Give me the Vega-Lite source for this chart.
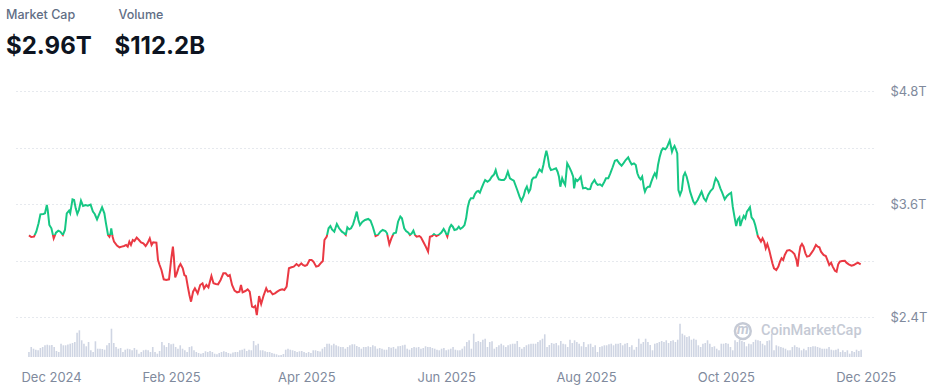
{
  "$schema": "https://vega.github.io/schema/vega-lite/v6.json",
  "width": 858,
  "height": 266,
  "autosize": {"type": "none"},
  "padding": {"left": 15, "top": 91, "right": 70, "bottom": 35},
  "background": "white",
  "config": {"view": {"stroke": null}, "font": "Inter"},
  "title": {
    "text": "Market Cap\u00a0\u00a0\u00a0\u00a0\u00a0\u00a0\u00a0\u00a0\u00a0\u00a0\u00a0\u00a0\u00a0Volume",
    "subtitle": "$2.96T\u00a0\u00a0\u00a0\u00a0$112.2B",
    "anchor": "start",
    "frame": "group",
    "dx": -9,
    "offset": 26,
    "font": "Inter",
    "fontSize": 12.5,
    "fontWeight": 500,
    "color": "#616e85",
    "subtitleFont": "Inter",
    "subtitleFontSize": 24,
    "subtitleFontWeight": 700,
    "subtitleColor": "#0d1421",
    "subtitlePadding": 14
  },
  "datasets": {
    "cap": [
      {"day":0,"cap":3.267},{"day":1.0,"cap":3.250},{"day":2.2,"cap":3.253},{"day":3.2,"cap":3.306},{"day":4.2,"cap":3.395},{"day":5.0,"cap":3.490},{"day":6.3,"cap":3.494},{"day":7.0,"cap":3.501},{"day":7.8,"cap":3.589},{"day":8.2,"cap":3.536},{"day":8.9,"cap":3.377},{"day":9.8,"cap":3.342},{"day":10.8,"cap":3.235},{"day":11.8,"cap":3.296},{"day":12.8,"cap":3.317},{"day":13.7,"cap":3.306},{"day":14.8,"cap":3.271},{"day":15.7,"cap":3.324},{"day":16.5,"cap":3.501},{"day":17.5,"cap":3.529},{"day":18.0,"cap":3.501},{"day":19.0,"cap":3.650},{"day":19.7,"cap":3.643},{"day":20.4,"cap":3.554},{"day":21.1,"cap":3.494},{"day":21.8,"cap":3.536},{"day":22.7,"cap":3.635},{"day":23.6,"cap":3.579},{"day":24.7,"cap":3.589},{"day":25.7,"cap":3.582},{"day":26.9,"cap":3.593},{"day":27.9,"cap":3.519},{"day":28.7,"cap":3.494},{"day":29.7,"cap":3.437},{"day":30.8,"cap":3.501},{"day":31.9,"cap":3.565},{"day":32.9,"cap":3.501},{"day":33.6,"cap":3.395},{"day":34.5,"cap":3.271},{"day":35.1,"cap":3.253},{"day":35.6,"cap":3.289},{"day":35.9,"cap":3.342},{"day":36.5,"cap":3.253},{"day":37.1,"cap":3.200},{"day":38.4,"cap":3.158},{"day":39.5,"cap":3.140},{"day":40.5,"cap":3.147},{"day":41.5,"cap":3.154},{"day":42.4,"cap":3.165},{"day":43.1,"cap":3.147},{"day":43.8,"cap":3.200},{"day":44.5,"cap":3.165},{"day":45.3,"cap":3.218},{"day":46.0,"cap":3.207},{"day":47.0,"cap":3.243},{"day":48.0,"cap":3.218},{"day":48.9,"cap":3.193},{"day":49.9,"cap":3.182},{"day":50.9,"cap":3.154},{"day":51.7,"cap":3.182},{"day":52.7,"cap":3.235},{"day":53.5,"cap":3.165},{"day":54.2,"cap":3.193},{"day":55.6,"cap":3.189},{"day":56.3,"cap":3.005},{"day":57.0,"cap":2.952},{"day":57.8,"cap":2.899},{"day":58.8,"cap":2.800},{"day":59.9,"cap":2.793},{"day":61.1,"cap":2.800},{"day":62.1,"cap":3.023},{"day":62.8,"cap":3.147},{"day":63.2,"cap":3.041},{"day":63.8,"cap":2.821},{"day":64.5,"cap":2.864},{"day":65.4,"cap":2.935},{"day":66.1,"cap":2.963},{"day":67.1,"cap":2.917},{"day":67.8,"cap":2.846},{"day":68.5,"cap":2.835},{"day":69.3,"cap":2.722},{"day":70.0,"cap":2.634},{"day":70.7,"cap":2.563},{"day":71.6,"cap":2.669},
      {"day":72.4,"cap":2.704},{"day":73.6,"cap":2.651},{"day":74.7,"cap":2.740},{"day":75.7,"cap":2.758},{"day":76.4,"cap":2.704},{"day":77.4,"cap":2.740},{"day":78.3,"cap":2.715},{"day":79.6,"cap":2.835},{"day":80.5,"cap":2.758},{"day":81.5,"cap":2.750},{"day":82.5,"cap":2.747},{"day":83.6,"cap":2.793},{"day":84.8,"cap":2.864},{"day":85.8,"cap":2.864},{"day":86.8,"cap":2.835},{"day":87.6,"cap":2.846},{"day":88.6,"cap":2.740},{"day":89.7,"cap":2.680},{"day":90.8,"cap":2.662},{"day":91.8,"cap":2.669},{"day":92.5,"cap":2.740},{"day":93.2,"cap":2.662},{"day":94.4,"cap":2.676},{"day":95.4,"cap":2.694},{"day":96.3,"cap":2.669},{"day":97.3,"cap":2.510},{"day":98.0,"cap":2.503},{"day":98.7,"cap":2.517},{"day":99.4,"cap":2.421},{"day":100.4,"cap":2.623},{"day":101.3,"cap":2.538},{"day":102.3,"cap":2.623},{"day":103.5,"cap":2.704},{"day":104.2,"cap":2.669},{"day":105.2,"cap":2.676},{"day":106.3,"cap":2.641},{"day":107.3,"cap":2.651},{"day":108.3,"cap":2.669},{"day":109.5,"cap":2.687},{"day":110.5,"cap":2.694},{"day":111.4,"cap":2.687},{"day":112.4,"cap":2.722},{"day":113.4,"cap":2.917},{"day":114.5,"cap":2.928},{"day":115.5,"cap":2.935},{"day":116.7,"cap":2.963},{"day":117.7,"cap":2.942},{"day":118.8,"cap":2.970},{"day":119.5,"cap":2.952},{"day":120.4,"cap":2.942},{"day":121.3,"cap":2.952},{"day":122.4,"cap":3.005},{"day":123.3,"cap":3.005},{"day":124.1,"cap":2.988},{"day":125.3,"cap":2.935},{"day":126.3,"cap":2.942},{"day":127.2,"cap":2.970},{"day":128.2,"cap":2.995},{"day":128.9,"cap":3.218},{"day":129.9,"cap":3.253},{"day":130.7,"cap":3.342},{"day":131.5,"cap":3.366},{"day":132.2,"cap":3.331},{"day":133.2,"cap":3.306},{"day":133.9,"cap":3.359},{"day":134.3,"cap":3.388},{"day":135.3,"cap":3.342},{"day":136.5,"cap":3.306},{"day":137.5,"cap":3.289},{"day":138.2,"cap":3.271},{"day":138.9,"cap":3.352},{"day":139.7,"cap":3.331},{"day":140.5,"cap":3.342},{"day":141.4,"cap":3.384},{"day":142.2,"cap":3.448},{"day":143.0,"cap":3.519},{"day":143.7,"cap":3.430},{"day":144.4,"cap":3.377},
      {"day":145.4,"cap":3.409},{"day":146.6,"cap":3.430},{"day":148.0,"cap":3.441},{"day":149.0,"cap":3.423},{"day":150.0,"cap":3.359},{"day":151.2,"cap":3.260},{"day":152.2,"cap":3.271},{"day":153.3,"cap":3.306},{"day":154.3,"cap":3.324},{"day":155.5,"cap":3.313},{"day":156.2,"cap":3.289},{"day":157.2,"cap":3.172},{"day":158.1,"cap":3.235},{"day":159.1,"cap":3.289},{"day":160.1,"cap":3.296},{"day":161.0,"cap":3.412},{"day":162.0,"cap":3.466},{"day":162.7,"cap":3.448},{"day":163.7,"cap":3.342},{"day":164.5,"cap":3.313},{"day":165.5,"cap":3.296},{"day":166.2,"cap":3.271},{"day":167.0,"cap":3.289},{"day":167.7,"cap":3.317},{"day":168.4,"cap":3.271},{"day":169.1,"cap":3.253},{"day":170.3,"cap":3.260},{"day":171.0,"cap":3.246},{"day":172.0,"cap":3.200},{"day":173.1,"cap":3.147},{"day":174.1,"cap":3.094},{"day":174.9,"cap":3.253},{"day":175.9,"cap":3.260},{"day":176.7,"cap":3.281},{"day":177.7,"cap":3.260},{"day":178.7,"cap":3.271},{"day":179.9,"cap":3.296},{"day":180.9,"cap":3.335},{"day":181.6,"cap":3.306},{"day":182.5,"cap":3.253},{"day":183.5,"cap":3.349},{"day":184.2,"cap":3.377},{"day":184.9,"cap":3.359},{"day":185.6,"cap":3.324},{"day":186.6,"cap":3.331},{"day":187.5,"cap":3.359},{"day":188.2,"cap":3.335},{"day":189.2,"cap":3.352},{"day":190.0,"cap":3.377},{"day":190.7,"cap":3.448},{"day":191.4,"cap":3.565},{"day":192.1,"cap":3.632},{"day":192.8,"cap":3.660},{"day":193.8,"cap":3.660},{"day":194.5,"cap":3.703},{"day":195.3,"cap":3.731},{"day":196.0,"cap":3.738},{"day":196.7,"cap":3.720},{"day":197.4,"cap":3.766},{"day":198.3,"cap":3.820},{"day":199.0,"cap":3.855},{"day":200.0,"cap":3.837},{"day":201.0,"cap":3.855},{"day":201.9,"cap":3.890},{"day":202.9,"cap":3.915},{"day":203.6,"cap":3.961},{"day":204.3,"cap":3.897},{"day":205.0,"cap":3.862},{"day":206.0,"cap":3.855},{"day":207.2,"cap":3.855},{"day":207.9,"cap":3.873},{"day":208.9,"cap":3.943},{"day":209.8,"cap":3.873},{"day":210.5,"cap":3.862},{"day":211.5,"cap":3.848},{"day":212.2,"cap":3.802},{"day":213.0,"cap":3.749},{"day":214.0,"cap":3.678},{"day":214.8,"cap":3.632},{"day":215.8,"cap":3.685},{"day":216.5,"cap":3.749},{"day":217.2,"cap":3.784},{"day":218.0,"cap":3.725},
      {"day":218.7,"cap":3.756},{"day":219.4,"cap":3.855},{"day":220.1,"cap":3.880},{"day":221.1,"cap":3.883},{"day":222.0,"cap":3.933},{"day":222.7,"cap":3.968},{"day":223.7,"cap":3.943},{"day":224.4,"cap":4.014},{"day":225.1,"cap":4.103},{"day":225.7,"cap":4.166},{"day":226.3,"cap":4.103},{"day":227.0,"cap":3.997},{"day":227.7,"cap":3.961},{"day":228.7,"cap":3.968},{"day":229.9,"cap":3.979},{"day":230.6,"cap":3.943},{"day":231.2,"cap":3.890},{"day":231.8,"cap":3.784},{"day":232.6,"cap":3.873},{"day":233.3,"cap":3.827},{"day":233.9,"cap":3.802},{"day":234.8,"cap":4.032},{"day":235.6,"cap":3.997},{"day":236.6,"cap":3.943},{"day":237.4,"cap":3.890},{"day":237.8,"cap":3.766},{"day":238.5,"cap":3.862},{"day":239.2,"cap":3.844},{"day":239.9,"cap":3.862},{"day":240.7,"cap":3.890},{"day":241.2,"cap":3.820},{"day":241.7,"cap":3.766},{"day":242.8,"cap":3.773},{"day":243.8,"cap":3.756},{"day":244.8,"cap":3.759},{"day":245.5,"cap":3.812},{"day":246.7,"cap":3.855},{"day":247.4,"cap":3.820},{"day":248.1,"cap":3.802},{"day":249.1,"cap":3.809},{"day":250.0,"cap":3.791},{"day":251.0,"cap":3.837},{"day":251.7,"cap":3.873},{"day":252.7,"cap":3.873},{"day":253.6,"cap":3.926},{"day":254.6,"cap":3.990},{"day":255.6,"cap":4.060},{"day":256.5,"cap":4.067},{"day":257.5,"cap":4.032},{"day":258.5,"cap":4.007},{"day":259.3,"cap":4.032},{"day":260.3,"cap":4.067},{"day":261.4,"cap":4.096},{"day":262.2,"cap":4.050},{"day":262.9,"cap":4.021},{"day":263.9,"cap":4.032},{"day":264.7,"cap":4.014},{"day":265.4,"cap":3.926},{"day":266.1,"cap":3.883},{"day":266.8,"cap":3.862},{"day":267.5,"cap":3.890},{"day":268.3,"cap":3.766},{"day":268.7,"cap":3.731},{"day":269.3,"cap":3.766},{"day":270.1,"cap":3.784},{"day":270.8,"cap":3.784},{"day":271.5,"cap":3.837},{"day":272.4,"cap":3.897},{"day":273.0,"cap":3.926},{"day":273.7,"cap":3.890},{"day":274.4,"cap":4.014},{"day":275.1,"cap":4.096},{"day":275.9,"cap":4.166},{"day":276.6,"cap":4.191},{"day":277.6,"cap":4.181},{"day":278.3,"cap":4.202},{"day":279.0,"cap":4.244},{"day":279.5,"cap":4.273},{"day":280.0,"cap":4.216},{"day":280.5,"cap":4.156},{"day":281.0,"cap":4.191},{"day":281.6,"cap":4.216},{"day":282.2,"cap":4.181},{"day":282.8,"cap":4.138},{"day":283.3,"cap":3.749},{"day":284.0,"cap":3.696},{"day":284.8,"cap":3.749},{"day":285.5,"cap":3.897},{"day":286.2,"cap":3.933},{"day":286.9,"cap":3.890},{"day":287.6,"cap":3.820},{"day":288.4,"cap":3.731},{"day":289.1,"cap":3.678},{"day":289.8,"cap":3.625},{"day":290.5,"cap":3.600},
      {"day":291.7,"cap":3.643},{"day":292.7,"cap":3.696},{"day":293.4,"cap":3.731},{"day":294.4,"cap":3.660},{"day":295.3,"cap":3.632},{"day":296.3,"cap":3.696},{"day":297.3,"cap":3.738},{"day":298.4,"cap":3.766},{"day":299.1,"cap":3.837},{"day":299.6,"cap":3.873},{"day":300.6,"cap":3.837},{"day":301.6,"cap":3.766},{"day":302.4,"cap":3.720},{"day":303.5,"cap":3.650},{"day":304.5,"cap":3.685},{"day":305.3,"cap":3.703},{"day":306.3,"cap":3.720},{"day":307.0,"cap":3.572},{"day":307.8,"cap":3.458},{"day":308.5,"cap":3.366},{"day":309.2,"cap":3.437},{"day":309.9,"cap":3.458},{"day":310.3,"cap":3.366},{"day":311.1,"cap":3.430},{"day":311.8,"cap":3.473},{"day":312.5,"cap":3.448},{"day":313.2,"cap":3.519},{"day":313.9,"cap":3.543},{"day":314.5,"cap":3.565},{"day":315.2,"cap":3.458},{"day":316.1,"cap":3.430},{"day":316.8,"cap":3.377},{"day":317.5,"cap":3.306},{"day":318.0,"cap":3.253},{"day":318.5,"cap":3.235},{"day":319.3,"cap":3.200},{"day":320.0,"cap":3.235},{"day":320.7,"cap":3.200},{"day":321.4,"cap":3.129},{"day":322.1,"cap":3.175},{"day":322.9,"cap":3.112},{"day":323.6,"cap":3.041},{"day":324.3,"cap":2.970},{"day":325.0,"cap":2.917},{"day":326.0,"cap":2.899},{"day":326.9,"cap":2.935},{"day":327.6,"cap":2.988},{"day":328.3,"cap":3.023},{"day":329.0,"cap":3.005},{"day":329.7,"cap":3.059},{"day":330.7,"cap":3.105},{"day":331.8,"cap":3.112},{"day":332.9,"cap":3.094},{"day":333.9,"cap":3.069},{"day":334.8,"cap":3.005},{"day":335.3,"cap":2.935},{"day":335.9,"cap":3.059},{"day":336.5,"cap":3.147},{"day":337.2,"cap":3.175},{"day":337.9,"cap":3.147},{"day":338.7,"cap":3.076},{"day":339.4,"cap":3.041},{"day":340.4,"cap":3.048},{"day":341.2,"cap":3.076},{"day":342.2,"cap":3.112},{"day":343.3,"cap":3.165},{"day":344.1,"cap":3.147},{"day":344.8,"cap":3.140},{"day":345.5,"cap":3.094},{"day":346.6,"cap":3.059},{"day":347.6,"cap":3.048},{"day":348.3,"cap":3.005},{"day":349.1,"cap":2.952},{"day":349.9,"cap":2.977},{"day":350.6,"cap":2.935},{"day":351.6,"cap":2.892},{"day":352.3,"cap":2.881},{"day":353.0,"cap":2.959},{"day":353.7,"cap":2.988},{"day":354.7,"cap":2.995},{"day":355.9,"cap":2.998},{"day":356.6,"cap":2.977},{"day":357.6,"cap":2.959},{"day":358.8,"cap":2.945},{"day":359.8,"cap":2.952},{"day":360.6,"cap":2.963},{"day":361.6,"cap":2.977},{"day":362.8,"cap":2.959}
    ],
    "volume": [
      {"day":0,"vol":50},{"day":1,"vol":100},{"day":2,"vol":83},{"day":3,"vol":73},{"day":4,"vol":67},{"day":5,"vol":90},
      {"day":6,"vol":100},{"day":7,"vol":117},{"day":8,"vol":123},{"day":9,"vol":117},{"day":10,"vol":120},{"day":11,"vol":100},{"day":12,"vol":60},
      {"day":13,"vol":50},{"day":14,"vol":133},{"day":15,"vol":117},{"day":16,"vol":117},{"day":17,"vol":125},{"day":18,"vol":133},{"day":19,"vol":140},{"day":20,"vol":150},
      {"day":21,"vol":243},{"day":22,"vol":267},
      {"day":23,"vol":167},{"day":24,"vol":133},{"day":25,"vol":107},{"day":26,"vol":150},
      {"day":27,"vol":67},{"day":28,"vol":50},{"day":29,"vol":157},
      {"day":30,"vol":83},{"day":31,"vol":83},{"day":32,"vol":80},{"day":33,"vol":73},{"day":34,"vol":117},{"day":35,"vol":140},{"day":36,"vol":283},{"day":37,"vol":140},
      {"day":38,"vol":100},{"day":39,"vol":83},{"day":40,"vol":90},{"day":41,"vol":50},
      {"day":42,"vol":73},{"day":43,"vol":83},{"day":44,"vol":77},{"day":45,"vol":67},{"day":46,"vol":90},{"day":47,"vol":73},
      {"day":48,"vol":33},{"day":49,"vol":50},{"day":50,"vol":67},{"day":51,"vol":73},{"day":52,"vol":67},{"day":53,"vol":50},{"day":54,"vol":100},{"day":55,"vol":50},{"day":56,"vol":33},{"day":57,"vol":60},
      {"day":58,"vol":150},{"day":59,"vol":117},{"day":60,"vol":100},{"day":61,"vol":140},{"day":62,"vol":127},{"day":63,"vol":133},{"day":64,"vol":100},{"day":65,"vol":83},
      {"day":66,"vol":117},{"day":67,"vol":83},{"day":68,"vol":67},{"day":69,"vol":50},{"day":70,"vol":100},{"day":71,"vol":107},
      {"day":72,"vol":67},{"day":73,"vol":50},{"day":74,"vol":40},{"day":75,"vol":33},{"day":76,"vol":40},{"day":77,"vol":57},{"day":78,"vol":50},
      {"day":79,"vol":60},{"day":80,"vol":50},{"day":81,"vol":33},{"day":82,"vol":27},{"day":83,"vol":40},{"day":84,"vol":50},{"day":85,"vol":57},{"day":86,"vol":50},{"day":87,"vol":40},{"day":88,"vol":33},{"day":89,"vol":45},{"day":90,"vol":50},
      {"day":91,"vol":50},{"day":92,"vol":67},{"day":93,"vol":73},{"day":94,"vol":83},{"day":95,"vol":60},{"day":96,"vol":73},{"day":97,"vol":67},
      {"day":98,"vol":160},{"day":99,"vol":117},{"day":100,"vol":133},{"day":101,"vol":67},
      {"day":102,"vol":67},{"day":103,"vol":57},{"day":104,"vol":50},{"day":105,"vol":50},{"day":106,"vol":40},{"day":107,"vol":33},{"day":108,"vol":27},{"day":109,"vol":17},{"day":110,"vol":20},{"day":111,"vol":30},
      {"day":112,"vol":73},{"day":113,"vol":83},{"day":114,"vol":73},{"day":115,"vol":67},{"day":116,"vol":60},
      {"day":117,"vol":50},{"day":118,"vol":57},{"day":119,"vol":60},{"day":120,"vol":50},{"day":121,"vol":40},{"day":122,"vol":50},{"day":123,"vol":40},{"day":124,"vol":67},{"day":125,"vol":67},{"day":126,"vol":60},{"day":127,"vol":55},
      {"day":128,"vol":83},{"day":129,"vol":100},{"day":130,"vol":133},{"day":131,"vol":133},{"day":132,"vol":117},{"day":133,"vol":133},
      {"day":134,"vol":117},{"day":135,"vol":107},{"day":136,"vol":100},{"day":137,"vol":100},{"day":138,"vol":83},{"day":139,"vol":100},{"day":140,"vol":117},{"day":141,"vol":127},{"day":142,"vol":127},{"day":143,"vol":110},{"day":144,"vol":100},
      {"day":145,"vol":83},{"day":146,"vol":100},{"day":147,"vol":100},{"day":148,"vol":107},{"day":149,"vol":100},{"day":150,"vol":117},{"day":151,"vol":107},{"day":152,"vol":83},{"day":153,"vol":90},
      {"day":154,"vol":83},{"day":155,"vol":73},{"day":156,"vol":73},{"day":157,"vol":100},{"day":158,"vol":93},{"day":159,"vol":100},{"day":160,"vol":83},{"day":161,"vol":107},{"day":162,"vol":110},
      {"day":163,"vol":117},{"day":164,"vol":123},{"day":165,"vol":83},{"day":166,"vol":73},{"day":167,"vol":90},{"day":168,"vol":100},{"day":169,"vol":95},
      {"day":170,"vol":100},{"day":171,"vol":83},{"day":172,"vol":90},{"day":173,"vol":107},{"day":174,"vol":100},{"day":175,"vol":100},{"day":176,"vol":90},
      {"day":177,"vol":83},{"day":178,"vol":73},{"day":179,"vol":67},{"day":180,"vol":83},{"day":181,"vol":90},{"day":182,"vol":67},{"day":183,"vol":75},
      {"day":184,"vol":83},{"day":185,"vol":100},{"day":186,"vol":73},{"day":187,"vol":67},
      {"day":188,"vol":67},{"day":189,"vol":83},{"day":190,"vol":107},{"day":191,"vol":150},{"day":192,"vol":167},{"day":193,"vol":83},{"day":194,"vol":233},{"day":195,"vol":150},{"day":196,"vol":160},
      {"day":197,"vol":150},{"day":198,"vol":173},{"day":199,"vol":183},{"day":200,"vol":100},{"day":201,"vol":150},{"day":202,"vol":157},
      {"day":203,"vol":83},{"day":204,"vol":100},{"day":205,"vol":117},{"day":206,"vol":133},{"day":207,"vol":117},{"day":208,"vol":100},
      {"day":209,"vol":117},{"day":210,"vol":127},{"day":211,"vol":133},{"day":212,"vol":133},{"day":213,"vol":160},
      {"day":214,"vol":100},{"day":215,"vol":83},{"day":216,"vol":100},{"day":217,"vol":117},{"day":218,"vol":127},{"day":219,"vol":133},{"day":220,"vol":133},
      {"day":221,"vol":133},{"day":222,"vol":150},{"day":223,"vol":167},{"day":224,"vol":183},{"day":225,"vol":227},{"day":226,"vol":100},{"day":227,"vol":120},
      {"day":228,"vol":140},{"day":229,"vol":133},{"day":230,"vol":140},{"day":231,"vol":117},{"day":232,"vol":160},{"day":233,"vol":133},{"day":234,"vol":127},{"day":235,"vol":100},
      {"day":236,"vol":173},{"day":237,"vol":140},{"day":238,"vol":167},{"day":239,"vol":150},{"day":240,"vol":133},{"day":241,"vol":107},{"day":242,"vol":150},
      {"day":243,"vol":100},{"day":244,"vol":127},{"day":245,"vol":133},{"day":246,"vol":100},{"day":247,"vol":117},{"day":248,"vol":50},{"day":249,"vol":100},
      {"day":250,"vol":107},{"day":251,"vol":117},{"day":252,"vol":117},{"day":253,"vol":127},{"day":254,"vol":133},{"day":255,"vol":117},{"day":256,"vol":133},
      {"day":257,"vol":133},{"day":258,"vol":140},{"day":259,"vol":117},{"day":260,"vol":133},{"day":261,"vol":140},{"day":262,"vol":100},{"day":263,"vol":117},{"day":264,"vol":73},{"day":265,"vol":100},
      {"day":266,"vol":183},{"day":267,"vol":133},{"day":268,"vol":150},{"day":269,"vol":183},{"day":270,"vol":150},{"day":271,"vol":120},
      {"day":272,"vol":67},{"day":273,"vol":133},{"day":274,"vol":140},{"day":275,"vol":150},{"day":276,"vol":160},{"day":277,"vol":150},{"day":278,"vol":167},
      {"day":279,"vol":140},{"day":280,"vol":160},{"day":281,"vol":167},{"day":282,"vol":150},{"day":283,"vol":173},
      {"day":284,"vol":333},{"day":285,"vol":233},{"day":286,"vol":217},{"day":287,"vol":200},{"day":288,"vol":207},{"day":289,"vol":173},
      {"day":290,"vol":183},{"day":291,"vol":173},{"day":292,"vol":117},{"day":293,"vol":100},{"day":294,"vol":133},
      {"day":295,"vol":140},{"day":296,"vol":167},{"day":297,"vol":133},{"day":298,"vol":100},{"day":299,"vol":107},{"day":300,"vol":83},
      {"day":301,"vol":67},{"day":302,"vol":133},{"day":303,"vol":133},{"day":304,"vol":140},{"day":305,"vol":133},{"day":306,"vol":100},{"day":307,"vol":67},
      {"day":308,"vol":167},{"day":309,"vol":150},{"day":310,"vol":173},{"day":311,"vol":160},{"day":312,"vol":150},
      {"day":313,"vol":107},{"day":314,"vol":133},{"day":315,"vol":127},{"day":316,"vol":150},{"day":317,"vol":173},{"day":318,"vol":167},
      {"day":319,"vol":160},{"day":320,"vol":133},{"day":321,"vol":117},{"day":322,"vol":160},{"day":323,"vol":167},{"day":324,"vol":233},{"day":325,"vol":67},
      {"day":326,"vol":117},{"day":327,"vol":107},{"day":328,"vol":100},{"day":329,"vol":93},{"day":330,"vol":83},{"day":331,"vol":67},{"day":332,"vol":67},
      {"day":333,"vol":100},{"day":334,"vol":117},{"day":335,"vol":100},{"day":336,"vol":93},{"day":337,"vol":67},{"day":338,"vol":83},{"day":339,"vol":67},{"day":340,"vol":100},
      {"day":341,"vol":100},{"day":342,"vol":107},{"day":343,"vol":107},{"day":344,"vol":100},{"day":345,"vol":93},{"day":346,"vol":83},{"day":347,"vol":83},
      {"day":348,"vol":83},{"day":349,"vol":100},{"day":350,"vol":73},{"day":351,"vol":67},{"day":352,"vol":73},{"day":353,"vol":83},{"day":354,"vol":50},
      {"day":355,"vol":67},{"day":356,"vol":50},{"day":357,"vol":67},{"day":358,"vol":33},{"day":359,"vol":60},{"day":360,"vol":50},{"day":361,"vol":73},{"day":362,"vol":60},{"day":363,"vol":73}
    ],
    "mark": [
      {"day": 363.2, "cap": 2.251, "label": "CoinMarketCap", "logoDay": 311.4, "logoText": "m"}
    ]
  },
  "encoding": {
    "x": {
      "field": "day",
      "type": "quantitative",
      "scale": {"domain": [-3.9, 366], "nice": false, "zero": false},
      "axis": {
        "values": [0, 62, 121, 182, 243, 304, 365],
        "labelExpr": "datum.value == 0 ? 'Dec 2024' : datum.value == 62 ? 'Feb 2025' : datum.value == 121 ? 'Apr 2025' : datum.value == 182 ? 'Jun 2025' : datum.value == 243 ? 'Aug 2025' : datum.value == 304 ? 'Oct 2025' : 'Dec 2025'",
        "labelAlign": {"expr": "datum.value == 0 ? 'left' : 'center'"},
        "labelOffset": {"expr": "datum.value == 0 ? -8 : 0"},
        "labelFlush": false,
        "labelOverlap": false,
        "labelFont": "Inter",
        "labelFontSize": 13,
        "labelColor": "#808a9d",
        "labelPadding": 14,
        "domain": false,
        "ticks": false,
        "grid": false,
        "title": null
      }
    }
  },
  "layer": [
    {
      "data": {"name": "volume"},
      "mark": {"type": "bar", "size": 1.6, "color": "#cfd5e3"},
      "encoding": {
        "y": {"field": "vol", "type": "quantitative", "scale": {"domain": [0, 2660], "nice": false}, "axis": null}
      }
    },
    {
      "encoding": {
        "y": {
          "field": "cap",
          "type": "quantitative",
          "scale": {"domain": [1.9753, 4.8], "nice": false, "zero": false},
          "axis": {
            "orient": "right",
            "values": [2.4, 3.0, 3.6, 4.2, 4.8],
            "labelExpr": "datum.value == 2.4 || datum.value == 3.6 || datum.value == 4.8 ? '$' + format(datum.value, '.1f') + 'T' : ''",
            "grid": true,
            "gridDash": [1, 3],
            "gridColor": "#cdd2dc",
            "gridWidth": 1,
            "domain": false,
            "ticks": false,
            "labelPadding": 17,
            "labelFont": "Inter",
            "labelFontSize": 13,
            "labelColor": "#808a9d",
            "title": null
          }
        }
      },
      "layer": [
        {
          "data": {"name": "cap"},
          "mark": {
            "type": "line",
            "strokeWidth": 2,
            "stroke": {
              "gradient": "linear",
              "x1": 0, "y1": 0, "x2": 0, "y2": 1,
              "stops": [
                {"offset": 0, "color": "#16c784"},
                {"offset": 0.5432, "color": "#16c784"},
                {"offset": 0.5432, "color": "#ea3943"},
                {"offset": 1, "color": "#ea3943"}
              ]
            }
          }
        },
        {
          "data": {"name": "mark"},
          "mark": {"type": "text", "align": "right", "baseline": "middle", "font": "Roboto", "fontSize": 14.5, "fontWeight": 500, "color": "#c5cad5"},
          "encoding": {"text": {"field": "label"}}
        },
        {
          "data": {"name": "mark"},
          "mark": {"type": "point", "shape": "circle", "filled": false, "size": 250, "strokeWidth": 2.5, "color": "#c5cad5", "opacity": 1},
          "encoding": {"x": {"field": "logoDay", "type": "quantitative"}}
        },
        {
          "data": {"name": "mark"},
          "mark": {"type": "text", "align": "center", "baseline": "middle", "font": "Roboto", "fontSize": 14, "fontWeight": 700, "fontStyle": "italic", "dy": -1, "color": "#c5cad5"},
          "encoding": {"x": {"field": "logoDay", "type": "quantitative"}, "text": {"field": "logoText"}}
        }
      ]
    }
  ],
  "resolve": {"scale": {"y": "independent"}}
}
